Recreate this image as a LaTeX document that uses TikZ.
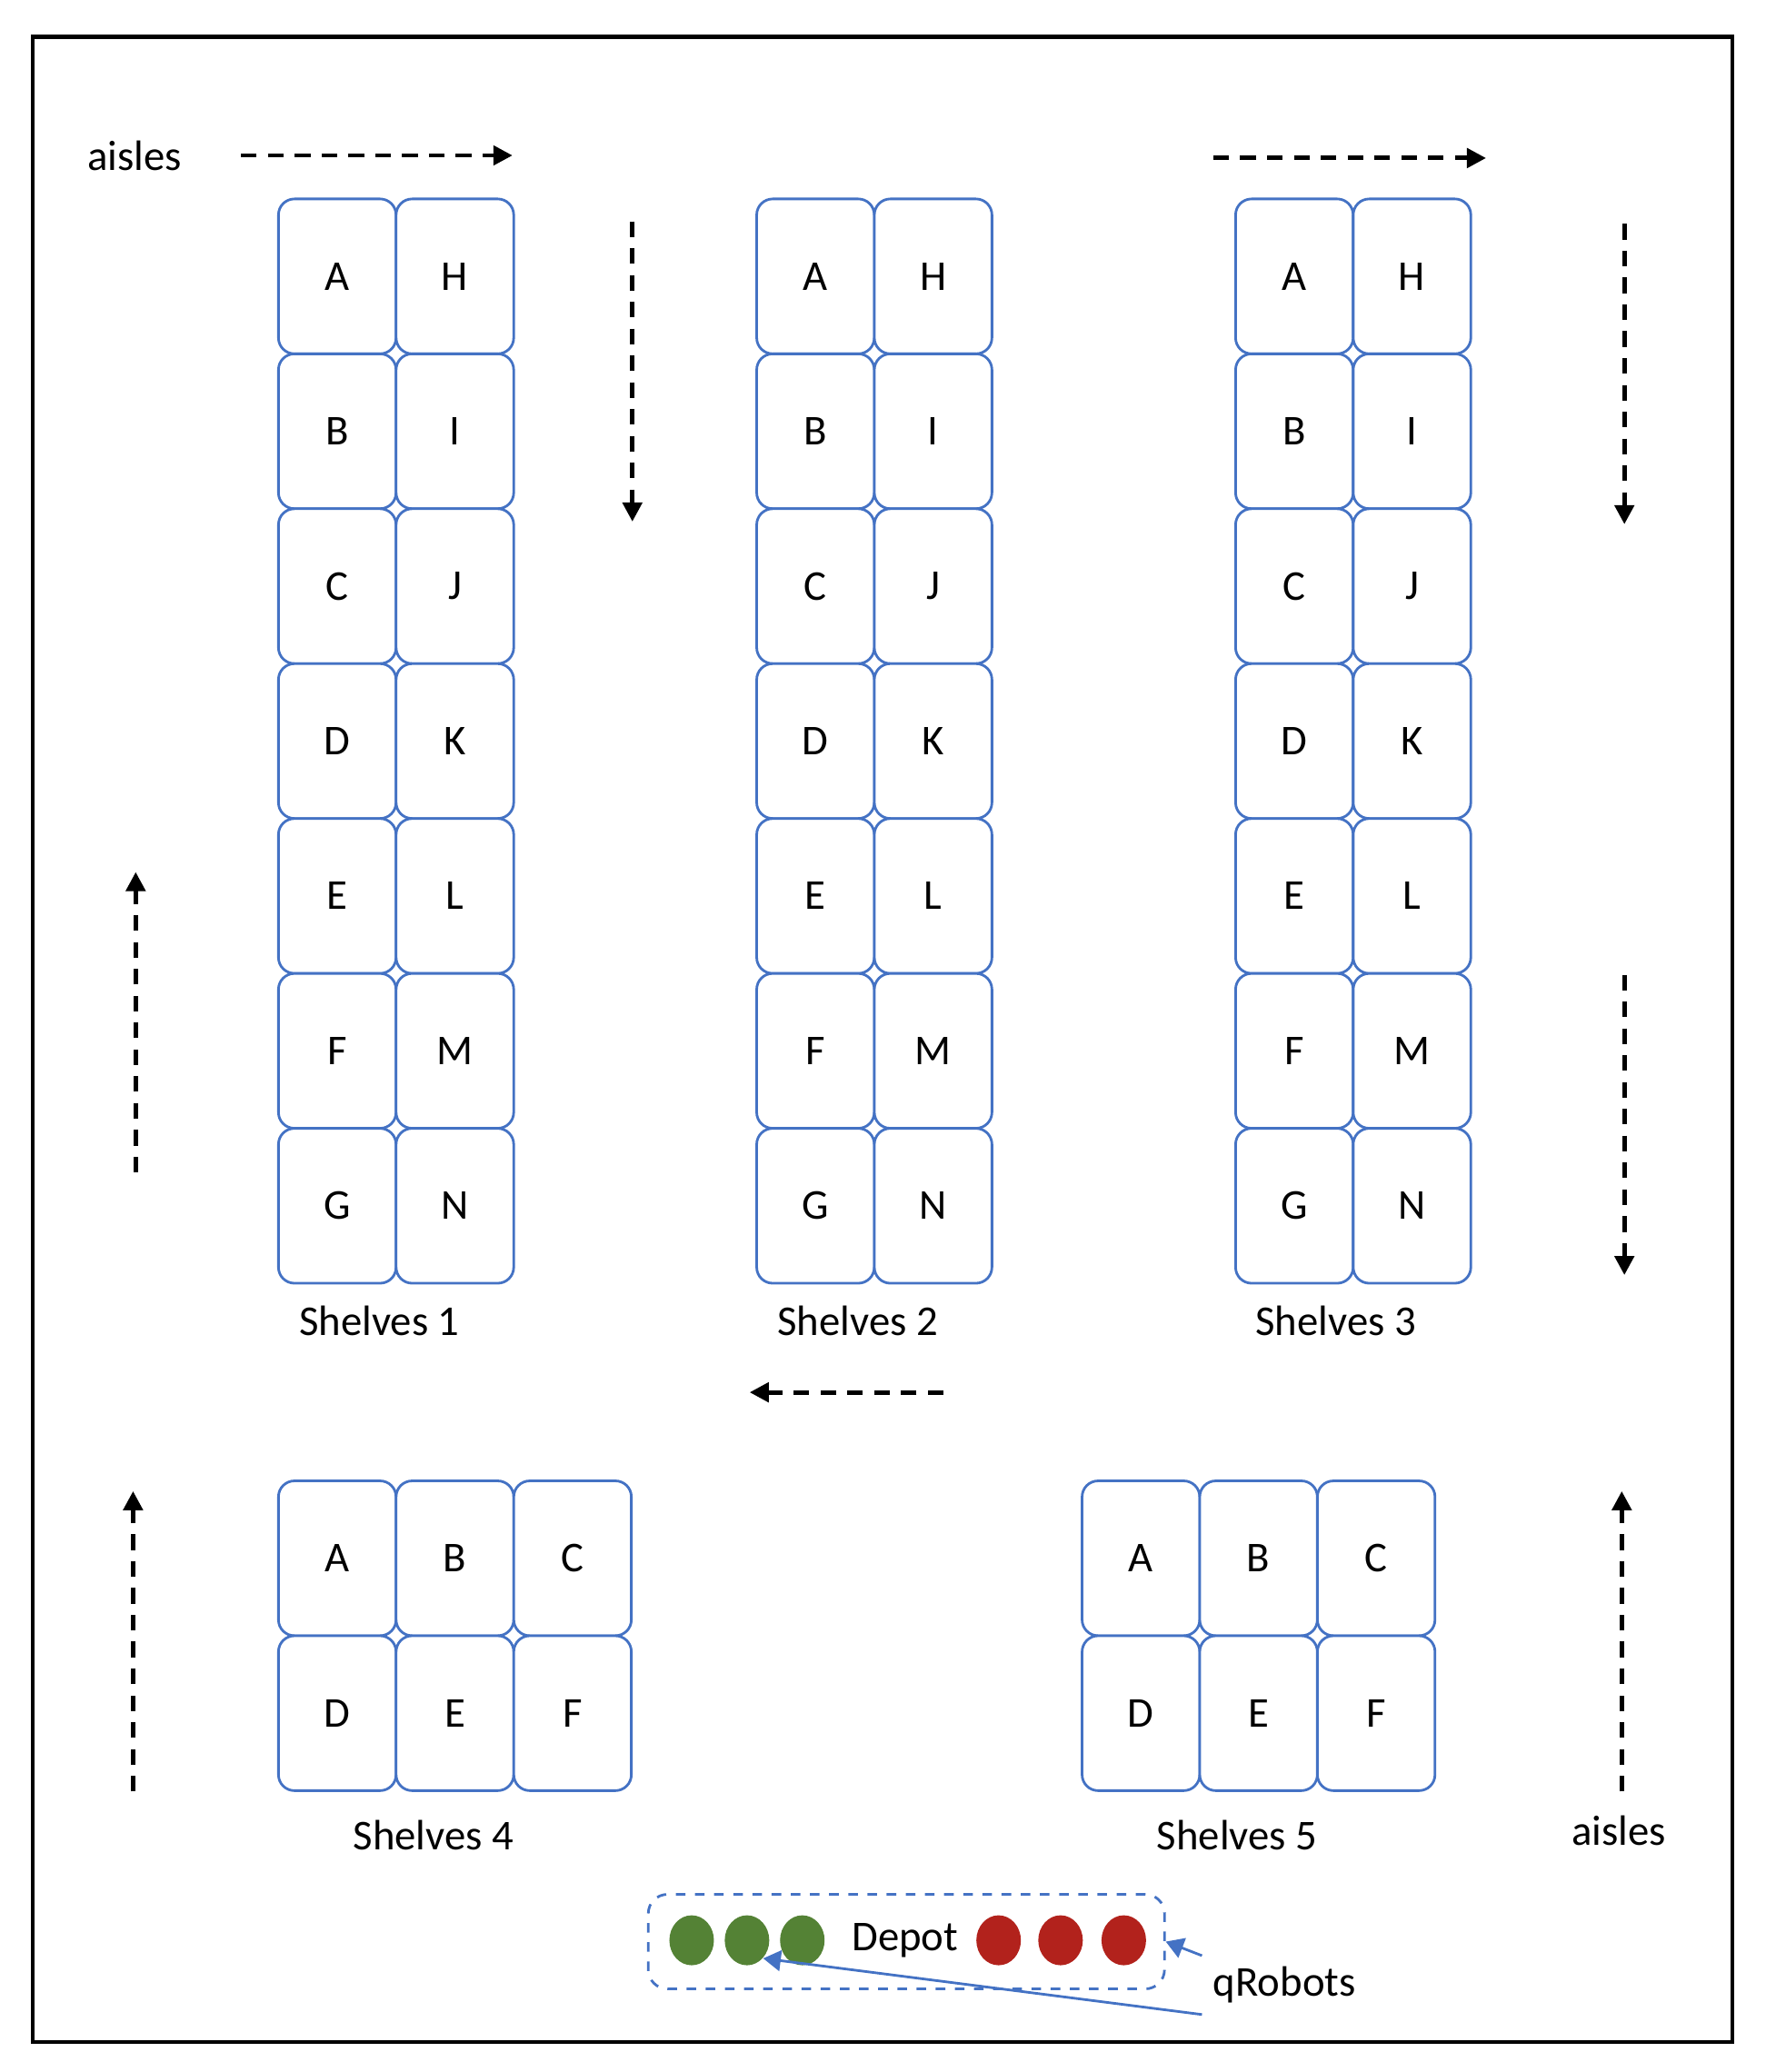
\documentclass[tikz,border=0pt]{standalone}
\usepackage{fontspec}
\setmainfont{Carlito}
\usetikzlibrary{shapes.geometric, arrows.meta, positioning}
\definecolor{shelfblue}{RGB}{68,114,196}
\definecolor{robotgreen}{RGB}{84,130,53}
\definecolor{robotred}{RGB}{178,34,28}

\begin{document}
\begin{tikzpicture}[
    x=0.01449cm, y=-0.01449cm,
    font=\fontsize{13.3}{16}\selectfont,
    % styles
    cell/.style={
        draw=shelfblue, line width=0.8pt, rounded corners=5pt, fill=white,
        minimum width=1.294cm, minimum height=1.704cm, inner sep=0pt, outer sep=0pt
    },
    shelf_label/.style={
        inner sep=1pt
    },
    aisle_arrow/.style={
        -{Triangle[length=6pt, width=6pt]}, line width=1.4pt, dash pattern=on 4.9pt off 3.5pt
    },
    robot/.style={
        ellipse, minimum width=0.49cm, minimum height=0.55cm, inner sep=0pt
    },
    depot_frame/.style={
        draw=shelfblue, dashed, line width=0.8pt, rounded corners=6pt,
        minimum width=5.68cm, minimum height=1.04cm
    },
    robot_arrow/.style={
        -{Triangle[length=5.5pt, width=6.5pt]}, shelfblue, line width=0.8pt
    }
]

    \fill[white] (0,0) rectangle (1340,1573);
    \useasboundingbox (0,0) rectangle (1340,1573);

    % --- 1. OUTER FRAME ---
    \draw[line width=1.2pt] (25,28) rectangle (1315,1550);

    % --- 2. TALL SHELVES (1-3) ---
    \foreach \sx/\sn in {256/1, 619/2, 982.5/3} {
        \foreach \l/\r [count=\k from 0] in {A/H, B/I, C/J, D/K, E/L, F/M, G/N} {
            \node[cell] (s\sn_\l) at (\sx, 209.8+117.6*\k) {\l};
            \node[cell] (s\sn_\r) at (\sx+89.3, 209.8+117.6*\k) {\r};
        }
    }
    \node[shelf_label] (s1_label) at (288,1003) {Shelves 1};
    \node[shelf_label] (s2_label) at (651,1003) {Shelves 2};
    \node[shelf_label] (s3_label) at (1014,1003) {Shelves 3};

    % --- 3. SHORT SHELVES (4-5) ---
    \foreach \sx/\sn in {256/4, 866/5} {
        \foreach \t/\b [count=\k from 0] in {A/D, B/E, C/F} {
            \node[cell] (s\sn_\t) at (\sx+89.3*\k, 1183) {\t};
            \node[cell] (s\sn_\b) at (\sx+89.3*\k, 1300.6) {\b};
        }
    }
    \node[shelf_label] (s4_label) at (329,1393) {Shelves 4};
    \node[shelf_label] (s5_label) at (939,1393) {Shelves 5};

    % --- 4. AISLES (one-way directions) ---
    \node (aisles_top) at (102,118) {aisles};
    \node (aisles_bottom) at (1229,1390) {aisles};

    \coordinate (a1_from) at (183,118);   \coordinate (a1_to) at (389,118);
    \coordinate (a2_from) at (480,168);   \coordinate (a2_to) at (480,396);
    \coordinate (a3_from) at (921,120);   \coordinate (a3_to) at (1128,120);
    \coordinate (a4_from) at (1233,170);  \coordinate (a4_to) at (1233,398);
    \coordinate (a5_from) at (1233,740);  \coordinate (a5_to) at (1233,968);
    \coordinate (a6_from) at (103,890);   \coordinate (a6_to) at (103,662);
    \coordinate (a7_from) at (716,1057);  \coordinate (a7_to) at (569,1057);
    \coordinate (a8_from) at (101,1360);  \coordinate (a8_to) at (101,1132);
    \coordinate (a9_from) at (1231,1360); \coordinate (a9_to) at (1231,1132);

    \draw[aisle_arrow] (a1_from) -- (a1_to);
    \draw[aisle_arrow] (a2_from) -- (a2_to);
    \draw[aisle_arrow] (a3_from) -- (a3_to);
    \draw[aisle_arrow] (a4_from) -- (a4_to);
    \draw[aisle_arrow] (a5_from) -- (a5_to);
    \draw[aisle_arrow] (a6_from) -- (a6_to);
    \draw[aisle_arrow] (a7_from) -- (a7_to);
    \draw[aisle_arrow] (a8_from) -- (a8_to);
    \draw[aisle_arrow] (a9_from) -- (a9_to);

    % --- 5. DEPOT & qROBOTS ---
    \node[depot_frame] (depot_box) at (688,1474) {};
    \node (depot_label) at (687,1473) {Depot};

    \node[robot, fill=robotgreen] (g1) at (525,1473) {};
    \node[robot, fill=robotgreen] (g2) at (567,1473) {};
    \node[robot, fill=robotgreen] (g3) at (609,1473) {};
    \node[robot, fill=robotred] (r1) at (758,1473) {};
    \node[robot, fill=robotred] (r2) at (805,1473) {};
    \node[robot, fill=robotred] (r3) at (853,1473) {};

    \node (qrobots) at (975,1507) {qRobots};

    \draw[robot_arrow] (qrobots.north west) -- (depot_box.east);
    \draw[robot_arrow] (qrobots.south west) -- (g2.south east);

\end{tikzpicture}
\end{document}
